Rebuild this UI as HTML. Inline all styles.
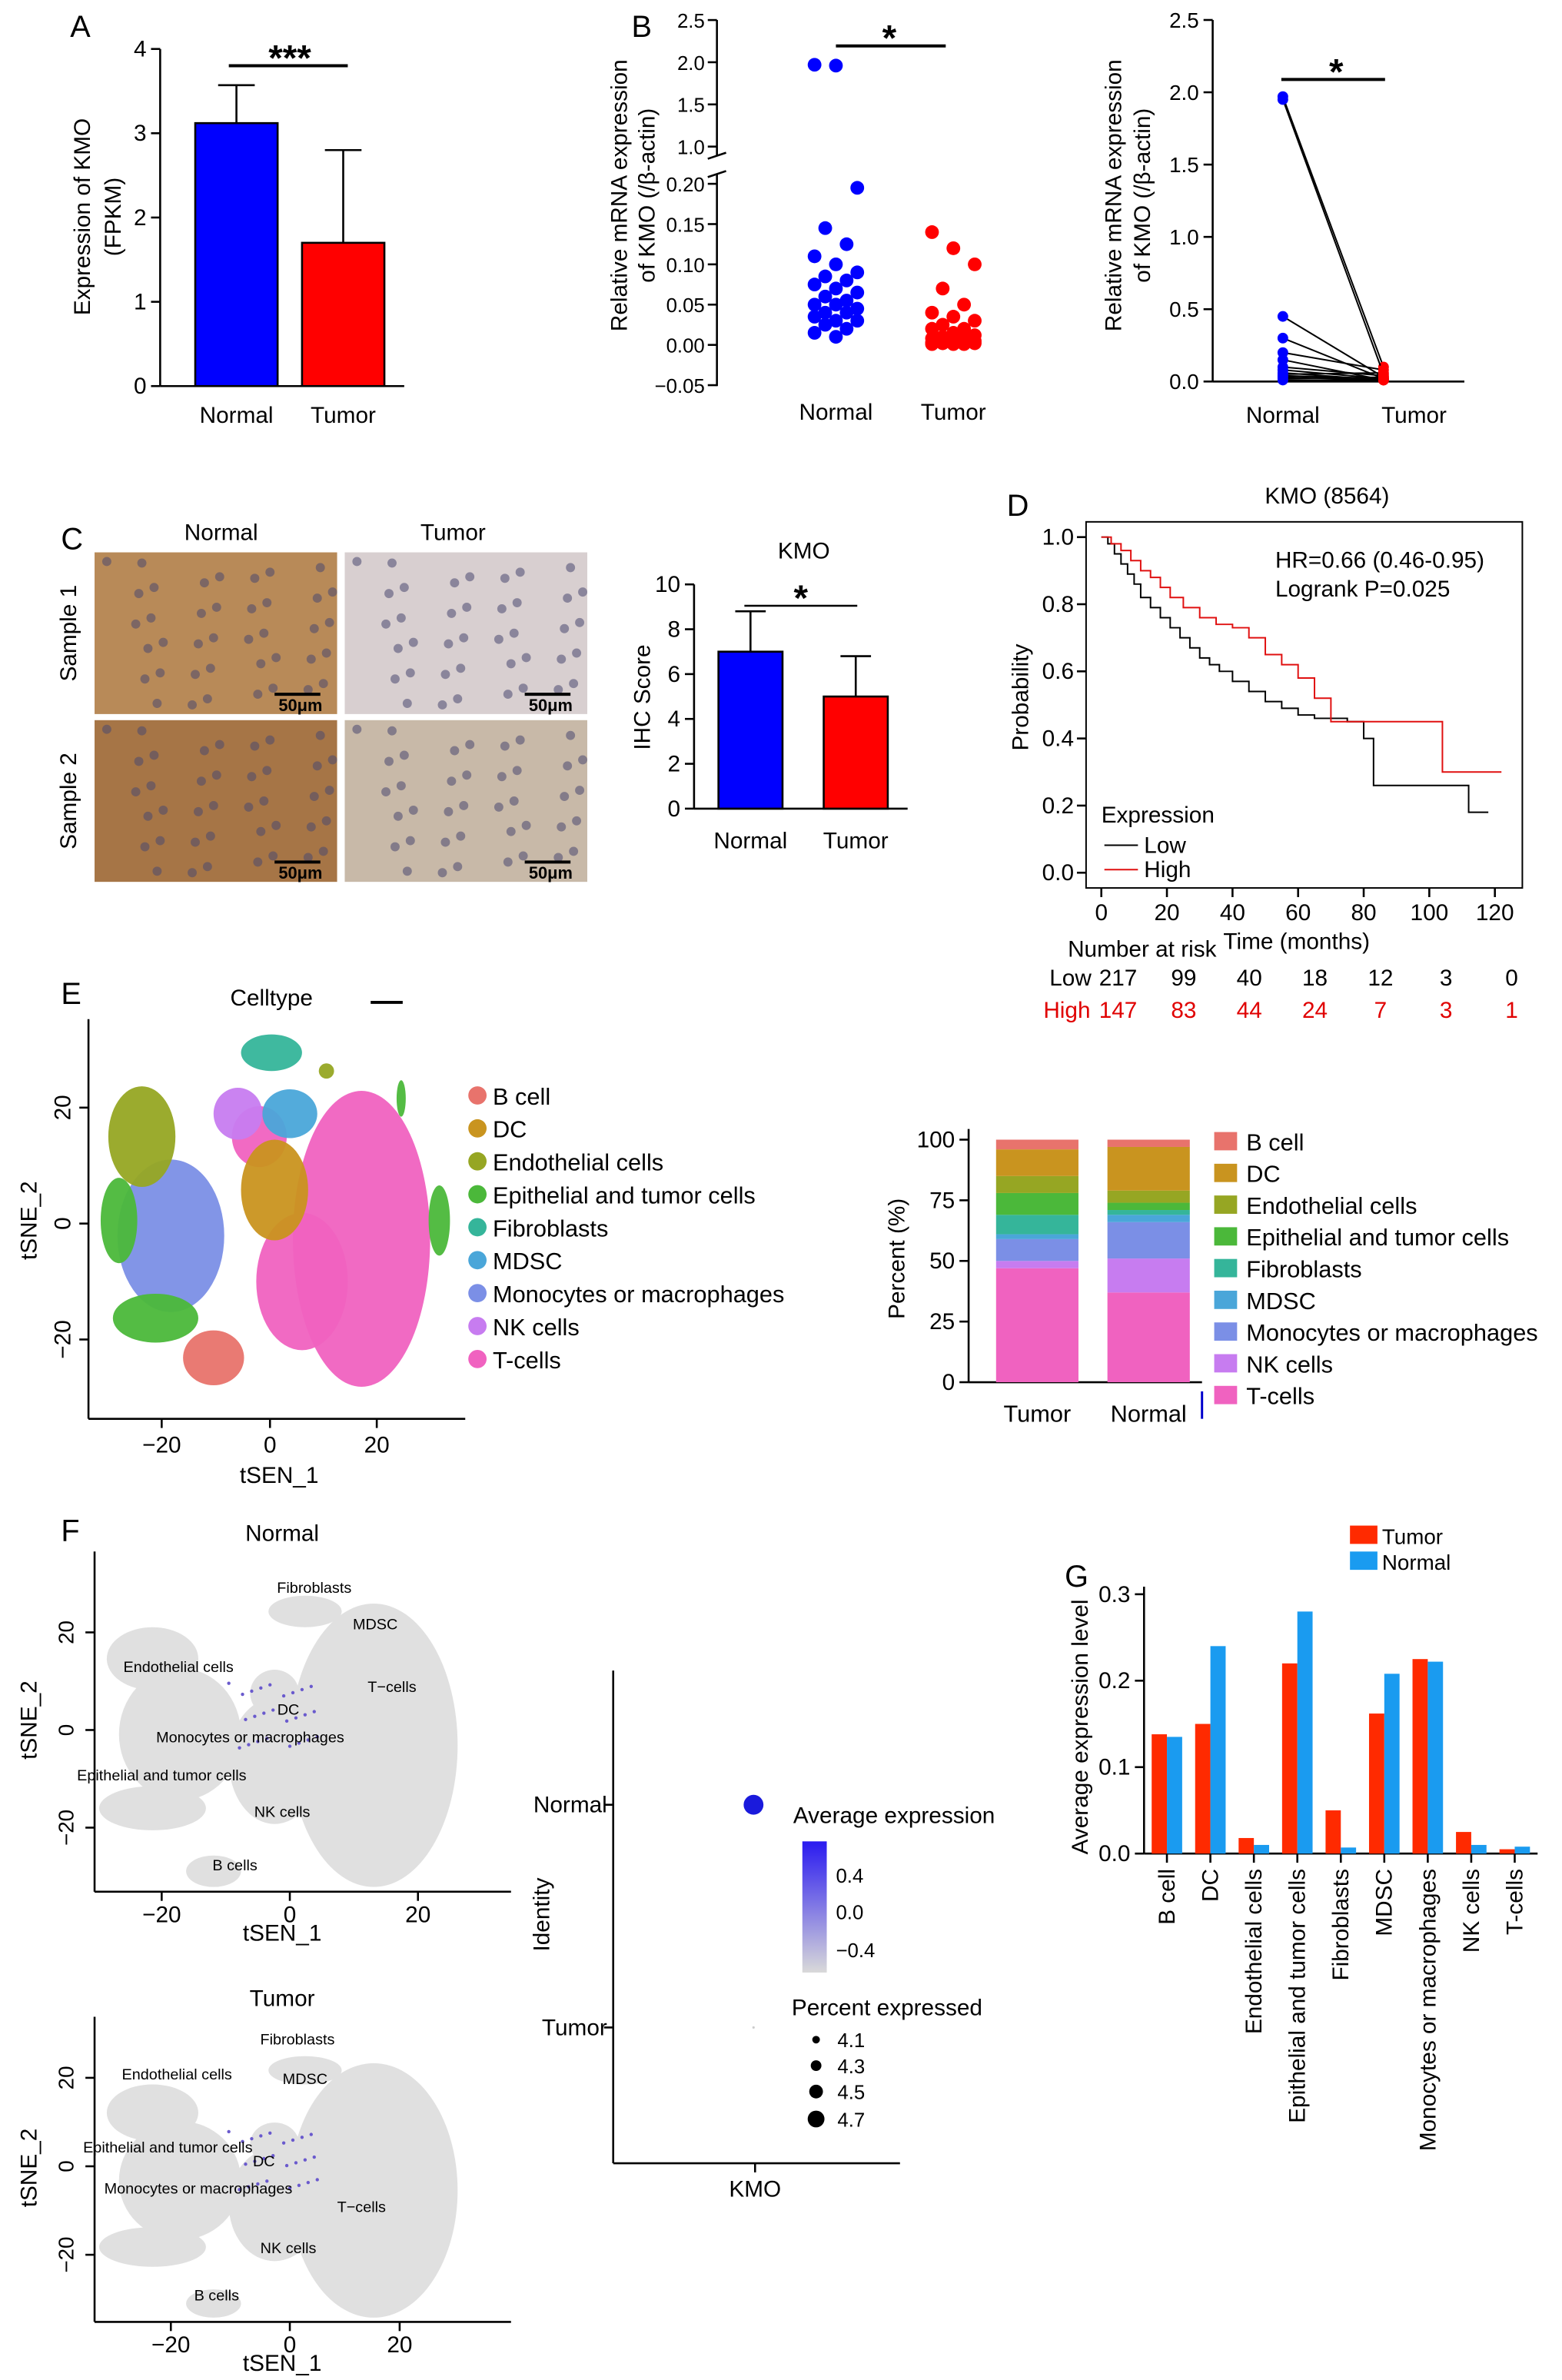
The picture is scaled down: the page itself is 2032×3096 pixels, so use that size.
<!DOCTYPE html>
<html><head><meta charset="utf-8"><style>
html,body{margin:0;padding:0;background:#fff}
svg{display:block;font-family:"Liberation Sans",Arial,sans-serif}
</style></head><body>
<svg id="fig" width="2032" height="3096" viewBox="0 0 1024 1560" xmlns="http://www.w3.org/2000/svg">
<g id="root"></g>
</svg>
<script>
// ---- data ----
const aCats=["Normal","Tumor"];
const aVals=[3.12,1.7];
const aErr=[0.45,1.1];
const bNormal=[1.97,1.96,0.195,0.145,0.125,0.11,0.1,0.09,0.085,0.08,0.075,0.07,0.065,0.06,0.055,0.05,0.05,0.045,0.04,0.04,0.035,0.03,0.03,0.025,0.02,0.015,0.01];
const bTumor=[0.14,0.12,0.1,0.07,0.05,0.04,0.035,0.03,0.025,0.02,0.02,0.015,0.012,0.01,0.01,0.008,0.006,0.005,0.005,0.004,0.003,0.003,0.002,0.002,0.001,0.001,0.001];
const pNormal=[1.97,1.95,0.45,0.3,0.2,0.15,0.1,0.08,0.06,0.05,0.04,0.03,0.02,0.01];
const pTumor=[0.1,0.05,0.03,0.02,0.08,0.01,0.04,0.02,0.01,0.06,0.02,0.01,0.03,0.01];
const cCats=["Normal","Tumor"];
const cVals=[7,5];
const cErr=[1.8,1.8];
const kmLowT=[0,2,4,6,8,10,12,15,18,21,24,27,30,33,36,40,45,50,55,60,65,70,75,80,83,90,100,108,112,118];
const kmLowP=[1,0.98,0.95,0.92,0.89,0.86,0.82,0.79,0.76,0.73,0.7,0.67,0.64,0.62,0.6,0.57,0.54,0.51,0.49,0.47,0.46,0.46,0.45,0.4,0.26,0.26,0.26,0.26,0.18,0.18];
const kmHighT=[0,3,6,9,12,15,18,21,25,30,35,40,45,50,55,60,65,70,75,85,95,104,110,122];
const kmHighP=[1,0.98,0.96,0.93,0.9,0.88,0.85,0.82,0.79,0.76,0.74,0.73,0.7,0.65,0.62,0.58,0.52,0.45,0.45,0.45,0.45,0.3,0.3,0.3];
const riskTimes=[0,20,40,60,80,100,120];
const riskLow=[217,99,40,18,12,3,0];
const riskHigh=[147,83,44,24,7,3,1];
const cellTypes=["B cell","DC","Endothelial cells","Epithelial and tumor cells","Fibroblasts","MDSC","Monocytes or macrophages","NK cells","T-cells"];
const cellColors=["#e8736c","#c9941f","#96a623","#4bb83a","#35b59a","#4aa6d9","#7b8fe6","#c77cf0","#f062c0"];
const stackTumor=[4,11,7,9,8,2,9,3,47];
const stackNormal=[3,18,5,3,2,3,15,14,37];
const gTumor=[0.138,0.15,0.018,0.22,0.05,0.162,0.225,0.025,0.005];
const gNormal=[0.135,0.24,0.01,0.28,0.007,0.208,0.222,0.01,0.008];

const NS="http://www.w3.org/2000/svg";
const root=document.getElementById('root');
function el(tag,attrs,parent,text){const e=document.createElementNS(NS,tag);for(const k in attrs)e.setAttribute(k,attrs[k]);if(text!==undefined)e.textContent=text;(parent||root).appendChild(e);return e;}
function T(x,y,s,size,anchor,parent,extra){const a={x:x,y:y,'font-size':size||14,'text-anchor':anchor||'middle',fill:'#000'};if(extra)for(const k in extra)a[k]=extra[k];return el('text',a,parent,s);}
function L(x1,y1,x2,y2,p,c,w){return el('line',{x1:x1,y1:y1,x2:x2,y2:y2,stroke:c||'#000','stroke-width':w||1.3},p);}

// Panel letters
[["A",46,24],["B",414,24],["C",40,360],["D",660,338],["E",40,658],["F",40,1010],["G",698,1040]].forEach(v=>{const t=T(v[1],v[2],v[0],20,'start');

});

// ---- Panel A ----
{const g=el('g',{},root);


const y=v=>253-v*(221/4), xs=[155,225];
L(105,32,105,253,g);L(105,253,265,253,g);
for(let i=0;i<=4;i++){L(99,y(i),105,y(i),g);T(96,y(i)+5,String(i),15,'end',g);}
aCats.forEach((c,i)=>{const r=el('rect',{x:xs[i]-27,y:y(aVals[i]),width:54,height:253-y(aVals[i]),fill:i?'#ff0000':'#0000ff',stroke:'#000','stroke-width':1.3},g);


L(xs[i],y(aVals[i]),xs[i],y(aVals[i]+aErr[i]),g);L(xs[i]-12,y(aVals[i]+aErr[i]),xs[i]+12,y(aVals[i]+aErr[i]),g);T(xs[i],277,c,15,'middle',g);});
L(150,43,228,43,g,'#000',2);T(190,46,"***",24,'middle',g,{'font-weight':'bold'});
T(0,0,"Expression of KMO",15,'middle',g,{transform:'translate(59,142) rotate(-90)'});T(0,0,"(FPKM)",15,'middle',g,{transform:'translate(79,142) rotate(-90)'});}

// ---- Panel B left ----
{const g=el('g',{},root);


const yl=v=>226-v*528, yu=v=>96-(v-1)*55.3;const y=v=>v>0.5?yu(v):yl(v);
L(470,13,470,102,g);L(470,114,470,253,g);L(464,104,476,100,g);L(464,116,476,112,g);
[2.5,2.0,1.5,1.0].forEach(v=>{L(464,yu(v),470,yu(v),g);T(462,yu(v)+5,v.toFixed(1),13,'end',g);});
[0.2,0.15,0.1,0.05,0,-0.05].forEach(v=>{L(464,yl(v),470,yl(v),g);T(462,yl(v)+5,(v<0?'\u22120.05':v.toFixed(2)),13,'end',g);});
const xs=[548,625];
bNormal.forEach((v,i)=>{const c=el('circle',{cx:xs[0]+((i*7)%5-2)*7,cy:y(v),r:4.5,fill:'#0000ff'},g);

});
bTumor.forEach((v,i)=>{const c=el('circle',{cx:xs[1]+((i*7)%5-2)*7,cy:y(v),r:4.5,fill:'#ff0000'},g);

});
T(548,275,"Normal",15,'middle',g);T(625,275,"Tumor",15,'middle',g);
L(548,30,620,30,g,'#000',2);T(583,33,"*",24,'middle',g,{'font-weight':'bold'});
T(0,0,"Relative mRNA expression",15,'middle',g,{transform:'translate(411,128) rotate(-90)'});T(0,0,"of KMO (/\u03b2-actin)",15,'middle',g,{transform:'translate(429,128) rotate(-90)'});}

// ---- Panel B right ----
{const g=el('g',{},root);


const y=v=>250-v*(237/2.5);L(795,13,795,250,g);L(795,250,960,250,g);
[0,0.5,1.0,1.5,2.0,2.5].forEach(v=>{L(789,y(v),795,y(v),g);T(786,y(v)+5,v.toFixed(1),14,'end',g);});
pNormal.forEach((v,i)=>{L(841,y(v),907,y(pTumor[i]),g,'#000',1);const c=el('circle',{cx:841,cy:y(v),r:3.5,fill:'#0000ff'},g);


const d=el('circle',{cx:907,cy:y(pTumor[i]),r:3.5,fill:'#ff0000'},g);

});
T(841,277,"Normal",15,'middle',g);T(927,277,"Tumor",15,'middle',g);
L(840,52,908,52,g,'#000',2);T(876,55,"*",24,'middle',g,{'font-weight':'bold'});
T(0,0,"Relative mRNA expression",15,'middle',g,{transform:'translate(735,128) rotate(-90)'});T(0,0,"of KMO (/\u03b2-actin)",15,'middle',g,{transform:'translate(754,128) rotate(-90)'});}

// ---- Panel C images ----
{const g=el('g',{},root);


T(145,354,"Normal",15,'middle',g);T(297,354,"Tumor",15,'middle',g);
T(0,0,"Sample 1",15,'middle',g,{transform:'translate(50,415) rotate(-90)'});T(0,0,"Sample 2",15,'middle',g,{transform:'translate(50,525) rotate(-90)'});
const imgs=[[62,362,'#b88a58'],[226,362,'#d8cfd0'],[62,472,'#a67546'],[226,472,'#c8b9a8']];
imgs.forEach((m,k)=>{const r=el('rect',{x:m[0],y:m[1],width:159,height:106,fill:m[2]},g);


for(let i=0;i<40;i++){el('circle',{cx:m[0]+8+((i*37)%150),cy:m[1]+6+((i*53)%96),r:3,fill:'#4a4870',opacity:0.55},g);}
L(m[0]+118,m[1]+93,m[0]+148,m[1]+93,g,'#000',2);T(m[0]+135,m[1]+104,"50\u03bcm",11,'middle',g,{'font-weight':'bold'});});}

// ---- Panel C bar ----
{const g=el('g',{},root);


const y=v=>530-v*14.7, xs=[492,561];T(527,366,"KMO",15,'middle',g);
L(455,383,455,530,g);L(455,530,595,530,g);
[0,2,4,6,8,10].forEach(v=>{L(449,y(v),455,y(v),g);T(446,y(v)+5,String(v),15,'end',g);});
cCats.forEach((c,i)=>{el('rect',{x:xs[i]-21,y:y(cVals[i]),width:42,height:530-y(cVals[i]),fill:i?'#ff0000':'#0000ff',stroke:'#000','stroke-width':1.3},g);
L(xs[i],y(cVals[i]),xs[i],y(cVals[i]+cErr[i]),g);L(xs[i]-10,y(cVals[i]+cErr[i]),xs[i]+10,y(cVals[i]+cErr[i]),g);T(xs[i],556,c,15,'middle',g);});
L(488,397,562,397,g);T(525,400,"*",24,'middle',g,{'font-weight':'bold'});
T(0,0,"IHC Score",15,'middle',g,{transform:'translate(426,457) rotate(-90)'});}

// ---- Panel D KM ----
{const g=el('g',{},root);


const x=t=>722+t*(258/120), y=p=>572-p*220;
T(870,330,"KMO (8564)",15,'middle',g);el('rect',{x:712,y:342,width:286,height:240,fill:'none',stroke:'#000','stroke-width':1},g);
[0,0.2,0.4,0.6,0.8,1.0].forEach(v=>{L(706,y(v),712,y(v),g);T(704,y(v)+5,v.toFixed(1),15,'end',g);});
riskTimes.forEach(t=>{L(x(t),582,x(t),588,g);T(x(t),603,String(t),15,'middle',g);});
T(0,0,"Probability",15,'middle',g,{transform:'translate(674,457) rotate(-90)'});
T(850,622,"Time (months)",15,'middle',g);
function path(ts,ps){let d='M'+x(ts[0])+','+y(ps[0]);for(let i=1;i<ts.length;i++){d+='H'+x(ts[i])+'V'+y(ps[i]);}return d;}
const lo=el('path',{d:path(kmLowT,kmLowP),fill:'none',stroke:'#000','stroke-width':1},g);


const hi=el('path',{d:path(kmHighT,kmHighP),fill:'none',stroke:'#e01010','stroke-width':1},g);


T(836,372,"HR=0.66 (0.46-0.95)",15,'start',g);T(836,391,"Logrank P=0.025",15,'start',g);
T(722,539,"Expression",15,'start',g);L(724,554,746,554,g,'#000',1);T(750,559,"Low",15,'start',g);L(724,570,746,570,g,'#e01010',1);T(750,575,"High",15,'start',g);
T(700,627,"Number at risk",15,'start',g);T(688,646,"Low",15,'start',g);T(684,667,"High",15,'start',g,{fill:'#e00000'});
riskTimes.forEach((t,i)=>{T(x(t)+11,646,String(riskLow[i]),15,'middle',g);T(x(t)+11,667,String(riskHigh[i]),15,'middle',g,{fill:'#e00000'});});}

// ---- Panel E tSNE ----
{const g=el('g',{},root);


T(178,659,"Celltype",15,'middle',g);L(243,657,264,657,g,'#000',2);
L(58,668,58,930,g);L(58,930,305,930,g);
[[-20,106],[0,177],[20,247]].forEach(v=>{L(v[1],930,v[1],936,g);T(v[1],952,(v[0]<0?'\u221220':String(v[0])),15,'middle',g);});
[[20,726],[0,802],[-20,878]].forEach(v=>{L(52,v[1],58,v[1],g);T(0,0,(v[0]<0?'\u221220':String(v[0])),15,'middle',g,{transform:'translate(46,'+v[1]+') rotate(-90)'});});
T(183,972,"tSEN_1",15,'middle',g);T(0,0,"tSNE_2",15,'middle',g,{transform:'translate(24,800) rotate(-90)'});
const blobs=[[8,237,812,45,97],[8,198,840,30,45],[8,170,745,18,20],[6,112,810,35,50],[1,180,780,22,33],[0,140,890,20,18],[2,93,745,22,33],[3,78,800,12,28],[3,102,864,28,16],[4,178,690,20,12],[5,190,730,18,16],[7,156,730,16,17],[3,288,800,7,23],[2,214,702,5,5],[3,263,720,3,12]];
blobs.forEach(b=>{const e=el('ellipse',{cx:b[1],cy:b[2],rx:b[3],ry:b[4],fill:cellColors[b[0]],opacity:0.95},g);

});
cellTypes.forEach((c,i)=>{const yy=718+i*21.6;el('circle',{cx:313,cy:yy,r:6,fill:cellColors[i]},g);const t=T(323,yy+6,c,15.5,'start',g);

});}

// ---- Panel E stacked ----
{const g=el('g',{},root);


const y=v=>906-v*1.59;L(635,740,635,906,g);L(635,906,788,906,g);L(788,912,788,930,g,'#0000cc',1.5);
[0,25,50,75,100].forEach(v=>{L(629,y(v),635,y(v),g);T(626,y(v)+5,String(v),15,'end',g);});
T(0,0,"Percent (%)",15,'middle',g,{transform:'translate(593,825) rotate(-90)'});
[[stackTumor,680,"Tumor"],[stackNormal,753,"Normal"]].forEach(s=>{let acc=0;for(let i=8;i>=0;i--){const v=s[0][i];const r=el('rect',{x:s[1]-27,y:y(acc+v),width:54,height:v*1.59,fill:cellColors[i]},g);


acc+=v;}T(s[1],932,s[2],15.5,'middle',g);});
cellTypes.forEach((c,i)=>{const yy=748+i*20.8;el('rect',{x:796,y:yy-6,width:15,height:12,fill:cellColors[i]},g);T(817,yy+6,c,15.5,'start',g);});}

// ---- Panel F tSNEs ----
function grayTsne(oy,axisY,title,labels,nm,ticksY,xt){const g=el('g',{},root);


const sy=(axisY-oy-20)/218;
T(185,oy+15,title,15,'middle',g);L(62,oy+22,62,axisY,g);L(62,axisY,335,axisY,g);
xt.forEach(v=>{L(v[1],axisY,v[1],axisY+6,g);T(v[1],axisY+20,(v[0]<0?'\u221220':String(v[0])),15,'middle',g);});
T(185,axisY+32,"tSEN_1",15,'middle',g);
T(0,0,"tSNE_2",15,'middle',g,{transform:'translate(24,'+((oy+axisY)/2+10)+') rotate(-90)'});
ticksY.forEach(v=>{L(56,v[1],62,v[1],g);T(0,0,(v[0]<0?'\u221220':String(v[0])),14,'middle',g,{transform:'translate(48,'+v[1]+') rotate(-90)'});});
[[245,125,55,90],[180,135,30,40],[118,118,40,42],[200,40,24,10],[240,60,16,14],[100,165,35,14],[100,70,30,20],[140,205,18,10],[180,92,16,15]].forEach(b=>el('ellipse',{cx:b[0],cy:oy+20+b[1]*sy,rx:b[2],ry:b[3]*sy,fill:'#e0e0e0'},g));
for(let i=0;i<25;i++)el('circle',{cx:150+((i*29)%60),cy:oy+105*sy+((i*17)%50)*sy,r:1.1,fill:'#6a5acd'},g);
labels.forEach(l=>T(l[1],oy+l[2],l[0],10,'middle',g));}
grayTsne(995,1240,"Normal",[["Fibroblasts",206,49],["MDSC",246,73],["T\u2212cells",257,114],["Endothelial cells",117,101],["DC",189,129],["Monocytes or macrophages",164,147],["Epithelial and tumor cells",106,172],["NK cells",185,196],["B cells",154,231]],'panel-f-tsne-normal',[[20,1070],[0,1134],[-20,1198]],[[-20,106],[0,190],[20,274]]);
grayTsne(1300,1522,"Tumor",[["Fibroblasts",195,40],["MDSC",200,66],["Endothelial cells",116,63],["Epithelial and tumor cells",110,111],["DC",173,120],["Monocytes or macrophages",130,138],["T\u2212cells",237,150],["NK cells",189,177],["B cells",142,208]],'panel-f-tsne-tumor',[[20,1362],[0,1420],[-20,1478]],[[-20,112],[0,190],[20,262]]);

// ---- Panel F dot plot ----
{const g=el('g',{},root);


L(402,1095,402,1418,g);L(402,1418,590,1418,g);L(396,1183,402,1183,g);L(396,1329,402,1329,g);L(495,1418,495,1424,g);
T(398,1188,"Normal",15,'end',g);T(398,1334,"Tumor",15,'end',g);T(495,1440,"KMO",15,'middle',g);
T(0,0,"Identity",15,'middle',g,{transform:'translate(360,1255) rotate(-90)'});
el('circle',{cx:494,cy:1183,r:6.5,fill:'#1a1adc'},g);el('circle',{cx:494,cy:1329,r:0.8,fill:'#ccc'},g);
T(520,1195,"Average expression",15,'start',g);
const defs=el('defs',{},g);
const gr=el('linearGradient',{id:'grd',x1:0,y1:0,x2:0,y2:1},defs);el('stop',{offset:0,'stop-color':'#2a1af0'},gr);el('stop',{offset:1,'stop-color':'#d9d9d9'},gr);
el('rect',{x:526,y:1207,width:16,height:86,fill:'url(#grd)'},g);
[["0.4",1230],["0.0",1254],["\u22120.4",1279]].forEach(v=>T(548,v[1]+4,v[0],13,'start',g));
T(519,1321,"Percent expressed",15,'start',g);
[["4.1",2.5,1337],["4.3",3.5,1354],["4.5",4.5,1371],["4.7",5.5,1389]].forEach(v=>{el('circle',{cx:535,cy:v[2],r:v[1],fill:'#000'},g);T(549,v[2]+5,v[0],13,'start',g);});}

// ---- Panel G ----
{const g=el('g',{},root);


const y=v=>1215-v*(170/0.3), x0=765, dx=28.5;
L(750,1040,750,1215,g);L(750,1215,1008,1215,g);
[0,0.1,0.2,0.3].forEach(v=>{L(744,y(v),750,y(v),g);T(741,y(v)+5,v.toFixed(1),15,'end',g);});
T(0,0,"Average expression level",15,'middle',g,{transform:'translate(713,1132) rotate(-90)'});
el('rect',{x:885,y:1000,width:18,height:12,fill:'#ff2a00'},g);T(906,1012,"Tumor",14,'start',g);el('rect',{x:885,y:1017,width:18,height:12,fill:'#1a9bf0'},g);T(906,1029,"Normal",14,'start',g);
cellTypes.forEach((c,i)=>{const cx=x0+i*dx;
const a=el('rect',{x:cx-10,y:y(gTumor[i]),width:10,height:1215-y(gTumor[i]),fill:'#ff2a00'},g);


const b=el('rect',{x:cx,y:y(gNormal[i]),width:10,height:1215-y(gNormal[i]),fill:'#1a9bf0'},g);


L(cx,1215,cx,1221,g);T(0,0,c,15,'end',g,{transform:'translate('+(cx+5)+',1225) rotate(-90)'});});}
</script>
</body></html>
